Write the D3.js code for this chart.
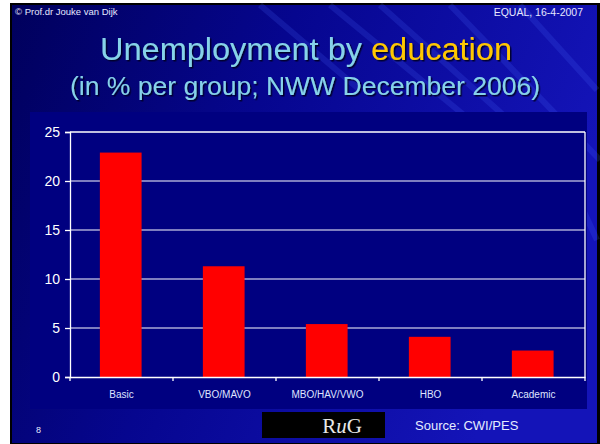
<!DOCTYPE html>
<html><head><meta charset="utf-8">
<script src="https://cdn.jsdelivr.net/npm/d3@7"></script>
<style>html,body{margin:0;padding:0;background:#fff;}svg{display:block;}</style>
</head><body>
<script>
const categories = ["Basic", "VBO/MAVO", "MBO/HAV/VWO", "HBO", "Academic"];
const values = [22.9, 11.3, 5.4, 4.1, 2.7];
const yTicks = [0, 5, 10, 15, 20, 25];

const W = 600, H = 444;
const svg = d3.select("body").append("svg").attr("width", W).attr("height", H);
const defs = svg.append("defs");
const g1 = defs.append("linearGradient").attr("id","bg").attr("x1","0").attr("y1","0").attr("x2","1").attr("y2","0.3");
g1.append("stop").attr("offset","0").attr("stop-color","#00005c");
g1.append("stop").attr("offset","0.45").attr("stop-color","#06068f");
g1.append("stop").attr("offset","1").attr("stop-color","#1414b8");
const sh = defs.append("filter").attr("id","shadow").attr("x","-5%").attr("y","-20%").attr("width","110%").attr("height","140%");
sh.append("feDropShadow").attr("dx",1.5).attr("dy",1.5).attr("stdDeviation",0.6).attr("flood-color","#000020").attr("flood-opacity",0.9);

// outer frame
svg.append("rect").attr("x",0).attr("y",0).attr("width",W).attr("height",H).attr("fill","#fff");
svg.append("rect").attr("x",10).attr("y",3).attr("width",590).attr("height",441).attr("fill","#000");
svg.append("rect").attr("x",12).attr("y",5).attr("width",585).attr("height",438).attr("fill","url(#bg)");
// streaks
const streaks = svg.append("g").attr("opacity",0.18);
[[330,5,470,120],[380,5,520,130],[450,5,600,160],[520,5,597,90],[560,160,597,240],[260,5,360,90]].forEach(s=>{
  streaks.append("line").attr("x1",s[0]).attr("y1",s[1]).attr("x2",s[2]).attr("y2",s[3])
    .attr("stroke","#4a6aff").attr("stroke-width",6);
});

// header
svg.append("text").attr("x",15).attr("y",15).attr("fill","#e6e8ff")
  .style("font-family","Liberation Sans, Arial, sans-serif").style("font-size","9.5px").text("© Prof.dr Jouke van Dijk");
svg.append("text").attr("x",583).attr("y",16).attr("text-anchor","end").attr("fill","#e6e8ff")
  .style("font-family","Liberation Sans, Arial, sans-serif").style("font-size","10.5px").text("EQUAL, 16-4-2007");

// titles
const t1 = svg.append("text").attr("x",306).attr("y",60).attr("text-anchor","middle").attr("filter","url(#shadow)")
  .style("font-family","Liberation Sans, Arial, sans-serif").style("font-size","31px").attr("textLength",412).attr("lengthAdjust","spacingAndGlyphs");
t1.append("tspan").attr("fill","#86d2ea").text("Unemployment by ");
t1.append("tspan").attr("fill","#ffc800").text("education");
svg.append("text").attr("x",305).attr("y",95).attr("text-anchor","middle").attr("filter","url(#shadow)")
  .attr("fill","#86d2ea").style("font-family","Liberation Sans, Arial, sans-serif").style("font-size","26px")
  .attr("textLength",470).attr("lengthAdjust","spacingAndGlyphs")
  .text("(in % per group; NWW December 2006)");

// chart panel
svg.append("rect").attr("x",30).attr("y",112).attr("width",557).attr("height",297).attr("fill","#000080");

const x = d3.scaleBand().domain(categories).range([70, 585]).padding(0);
const y = d3.scaleLinear().domain([0, 25]).range([377, 132]);

// gridlines
svg.append("g").selectAll("line").data(yTicks.filter(d=>d>0 && d<25)).join("line")
  .attr("x1",70).attr("x2",585).attr("y1",d=>y(d)).attr("y2",d=>y(d))
  .attr("stroke","#a9a9d6").attr("stroke-width",1.5);
// top and right border
svg.append("line").attr("x1",70).attr("x2",585).attr("y1",y(25)).attr("y2",y(25)).attr("stroke","#fff").attr("stroke-width",1.3);
svg.append("line").attr("x1",585).attr("x2",585).attr("y1",y(25)).attr("y2",y(0)).attr("stroke","#fff").attr("stroke-width",1.3);

// bars
const bw = x.bandwidth()*0.405;
svg.append("g").selectAll("rect").data(values).join("rect")
  .attr("x",(d,i)=>x(categories[i]) + x.bandwidth()*0.29)
  .attr("width",bw)
  .attr("y",d=>y(d)).attr("height",d=>y(0)-y(d))
  .attr("fill","#ff0000");

// y axis
const yAxis = svg.append("g").attr("transform","translate(70,0)")
  .call(d3.axisLeft(y).tickValues(yTicks).tickSize(5).tickPadding(5));
yAxis.select(".domain").attr("stroke","#fff").attr("stroke-width",1.3);
yAxis.selectAll(".tick line").attr("stroke","#fff").attr("stroke-width",1.3);
yAxis.selectAll(".tick text").attr("fill","#fff").style("font-family","Liberation Sans, Arial, sans-serif").style("font-size","14px");

// x axis
const xAxis = svg.append("g").attr("transform","translate(0,377)")
  .call(d3.axisBottom(x).tickSize(0).tickPadding(14));
xAxis.select(".domain").attr("stroke","#fff").attr("stroke-width",1.3);
xAxis.selectAll(".tick text").attr("fill","#dfe4ff").style("font-family","Liberation Sans, Arial, sans-serif").style("font-size","10px");
svg.append("g").selectAll("line").data(categories.map(c=>x(c)).concat([585])).join("line")
  .attr("x1",d=>d).attr("x2",d=>d).attr("y1",377).attr("y2",381).attr("stroke","#fff").attr("stroke-width",1.3);

// footer
svg.append("text").attr("x",36).attr("y",433).attr("fill","#e6e8ff")
  .style("font-family","Liberation Sans, Arial, sans-serif").style("font-size","9px").text("8");
svg.append("rect").attr("x",262).attr("y",412).attr("width",123).attr("height",26).attr("fill","#000");
const rug = svg.append("text").attr("x",342).attr("y",433).attr("text-anchor","middle").attr("fill","#e8e8e8")
  .style("font-family","Liberation Serif, Times New Roman, serif").style("font-size","21px");
rug.append("tspan").text("R");
rug.append("tspan").style("font-style","italic").text("u");
rug.append("tspan").text("G");
svg.append("text").attr("x",415).attr("y",430).attr("fill","#e6ecff")
  .style("font-family","Liberation Sans, Arial, sans-serif").style("font-size","13px").text("Source: CWI/PES");
</script>
</body></html>
